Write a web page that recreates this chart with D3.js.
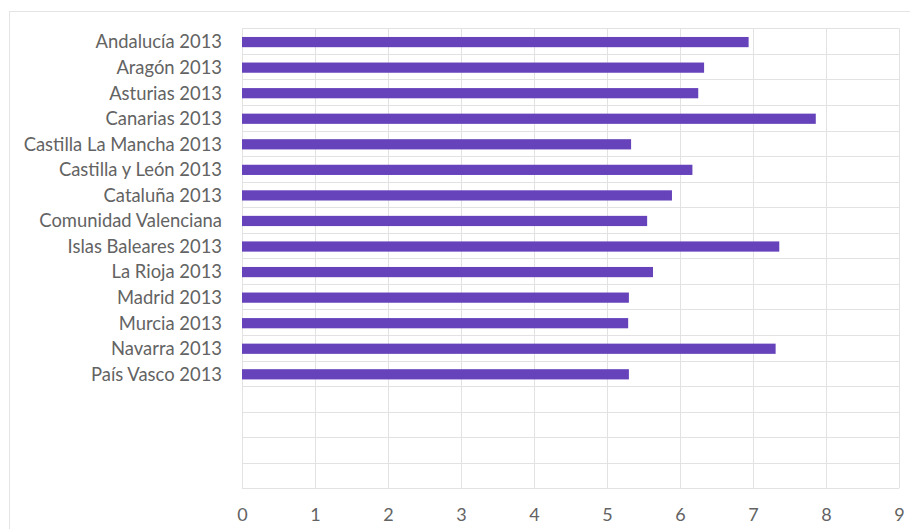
<!DOCTYPE html>
<html>
<head>
<meta charset="utf-8">
<script src="https://cdn.jsdelivr.net/npm/d3@7"></script>
<style>
  html, body { margin: 0; padding: 0; background: #ffffff; }
  svg { display: block; }
  .lbl { font-family: Lato, "Open Sans", sans-serif; fill: #636363; }
</style>
</head>
<body>
<svg id="chart" width="910" height="529"></svg>
<script>
// Regions (category axis, top to bottom) and their 2013 values
const categories = [
  "Andalucía 2013", "Aragón 2013", "Asturias 2013", "Canarias 2013",
  "Castilla La Mancha 2013", "Castilla y León 2013", "Cataluña 2013",
  "Comunidad Valenciana", "Islas Baleares 2013", "La Rioja 2013",
  "Madrid 2013", "Murcia 2013", "Navarra 2013", "País Vasco 2013"
];
const values = [6.94, 6.33, 6.25, 7.86, 5.33, 6.17, 5.89, 5.55, 7.36, 5.63, 5.30, 5.29, 7.31, 5.30];
// Empty slots that follow the named categories on the axis
const emptySlots = ["", " ", "  ", "   "];
const xTicks = [0, 1, 2, 3, 4, 5, 6, 7, 8, 9];

const svg = d3.select("#chart");
const margin = { left: 242, right: 11, top: 28.3, bottom: 40.7 };
const W = 910, H = 529;

// Outer chart frame
svg.append("rect")
  .attr("x", 9.5).attr("y", 11.5)
  .attr("width", W + 10).attr("height", H + 10)
  .attr("fill", "none").attr("stroke", "#e4e4e4").attr("stroke-width", 1);

const x = d3.scaleLinear().domain([0, 9]).range([margin.left, W - margin.right]);
const y = d3.scaleBand()
  .domain(categories.concat(emptySlots))
  .range([margin.top, H - margin.bottom])
  .paddingInner(0.6).paddingOuter(0.3);

const step = y.step();
const bandTop = y.range()[0];
const nRows = y.domain().length;

// Gridlines: verticals at each tick, horizontals at category boundaries
const grid = svg.append("g").attr("stroke", "#e2e2e2").attr("stroke-width", 1);
grid.selectAll("line.v").data(xTicks).join("line")
  .attr("class", "v")
  .attr("x1", d => Math.round(x(d)) + 0.5).attr("x2", d => Math.round(x(d)) + 0.5)
  .attr("y1", bandTop).attr("y2", bandTop + nRows * step);
grid.selectAll("line.h").data(d3.range(nRows + 1)).join("line")
  .attr("class", "h")
  .attr("x1", x(0)).attr("x2", x(9))
  .attr("y1", i => Math.round(bandTop + i * step) + 0.5)
  .attr("y2", i => Math.round(bandTop + i * step) + 0.5);

// Bars (sit a touch below the row centre)
svg.append("g").attr("transform", "translate(0,1)")
  .selectAll("rect").data(values).join("rect")
  .attr("x", x(0))
  .attr("y", (d, i) => y(categories[i]))
  .attr("width", d => x(d) - x(0))
  .attr("height", y.bandwidth())
  .attr("fill", "#6743bb");

// Category labels
const yAxis = d3.axisLeft(y).tickSize(0).tickPadding(20);
const gy = svg.append("g").attr("transform", `translate(${x(0)},1.5)`).call(yAxis);
gy.select(".domain").remove();
gy.selectAll("text").attr("class", "lbl").attr("font-size", 18.4).attr("fill", null);

// Value axis labels
const xAxis = d3.axisBottom(x).tickValues(xTicks).tickSize(0).tickPadding(0).tickFormat(d3.format("d"));
const gx = svg.append("g").attr("transform", `translate(0,${H - 14})`).call(xAxis);
gx.select(".domain").remove();
gx.selectAll("text").attr("class", "lbl").attr("font-size", 18).attr("fill", null).attr("dy", "0.35em");
</script>
</body>
</html>
